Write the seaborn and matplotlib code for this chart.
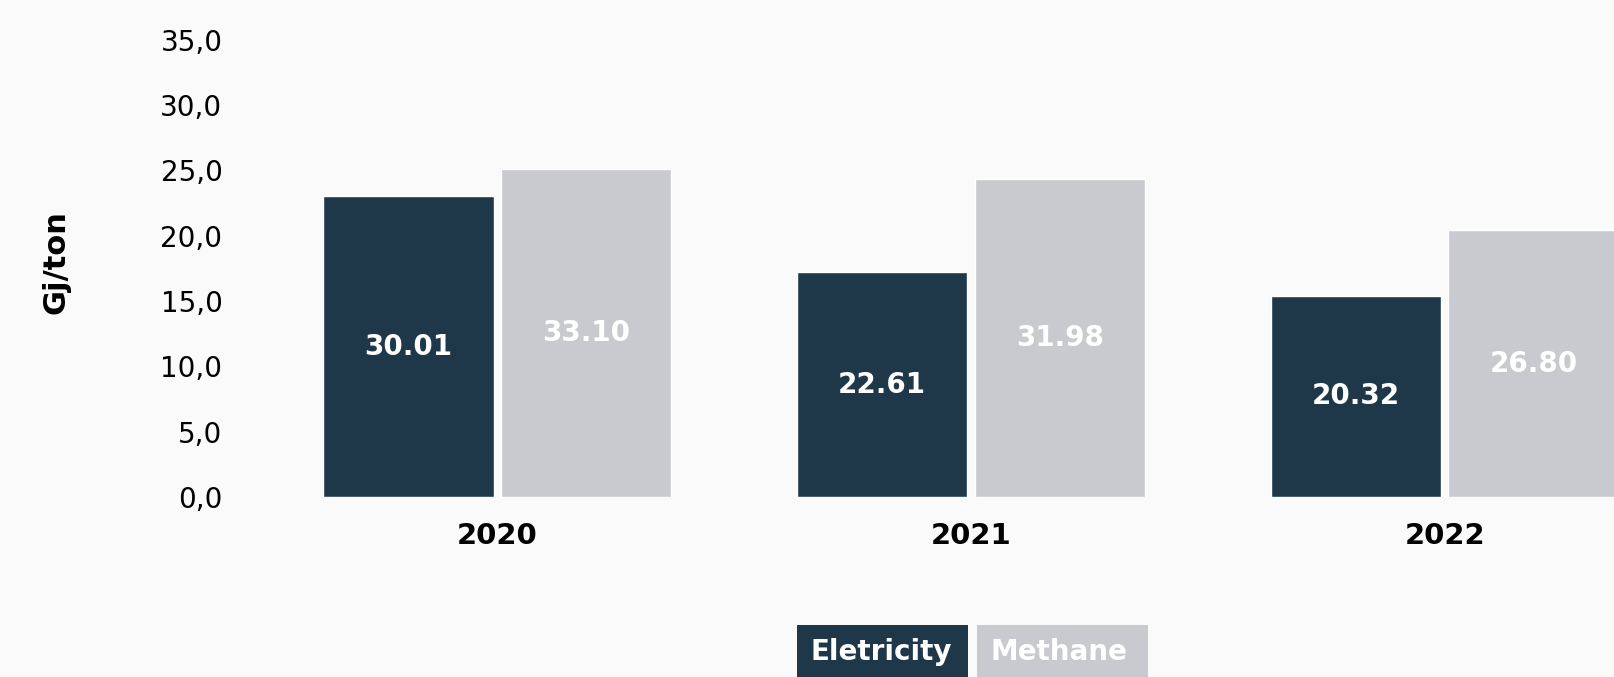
import numpy as np
import pandas as pd
from matplotlib import pyplot as plt
from matplotlib.patches import Rectangle
import seaborn as sns

years = ["2020", "2021", "2022"]
series = ["Eletricity", "Methane"]
# heights as drawn against the axis
eletricity = [23.0, 17.2, 15.4]
methane = [25.1, 24.3, 20.4]
# figures printed inside the bars
eletricity_labels = ["30.01", "22.61", "20.32"]
methane_labels = ["33.10", "31.98", "26.80"]
y_ticks = [0, 5, 10, 15, 20, 25, 30, 35]

navy = "#1e3749"
grey = "#c9cacf"
bg = "#fafafa"

sns.set_theme(style="white")
plt.rcParams['font.family'] = ['DejaVu Sans']

df = pd.DataFrame({
    "year": years * 2,
    "serie": [series[0]] * 3 + [series[1]] * 3,
    "value": eletricity + methane,
})

fig = plt.figure(figsize=(16.15, 6.77), dpi=100, facecolor=bg)
ax = fig.add_axes([235 / 1615, 180 / 677, 1380 / 1615, 470.5 / 677])
ax.set_facecolor(bg)

sns.barplot(data=df, x="year", y="value", hue="serie", palette=[navy, grey],
            width=0.75, gap=0.04, saturation=1, legend=False, ax=ax)

# labels in the middle of each bar
for bars, labels in zip(ax.containers, [eletricity_labels, methane_labels]):
    for bar, txt in zip(bars, labels):
        ax.text(bar.get_x() + bar.get_width() / 2, bar.get_height() / 2, txt,
                ha="center", va="center", color="white", fontsize=20, fontweight="bold")

ax.set_xlim(-0.553, 2.359)
ax.set_ylim(0, 36)
ax.set_yticks(y_ticks)
ax.set_yticklabels([f"{t:.1f}".replace(".", ",") for t in y_ticks], fontsize=20)
ax.tick_params(axis="y", length=0, pad=9, colors="black")
ax.tick_params(axis="x", length=0, pad=18, labelsize=21, colors="black")
for lab in ax.get_xticklabels():
    lab.set_fontweight("bold")
ax.set_xlabel("")
ax.set_ylabel("Gj/ton", fontsize=22, fontweight="bold", color="black")
ax.yaxis.set_label_coords(-0.119, 0.5)
sns.despine(ax=ax, left=True, bottom=True)

# legend boxes under the 2021 group
for x0, name, col in [(797, series[0], navy), (977, series[1], grey)]:
    fig.add_artist(Rectangle((x0 / 1615, 0), 171 / 1615, 52 / 677,
                             transform=fig.transFigure, color=col, lw=0))
    fig.text((x0 + 14) / 1615, 25 / 677, name, ha="left", va="center",
             color="white", fontsize=20, fontweight="bold")

fig.savefig("out.png", dpi=100, facecolor=bg)
